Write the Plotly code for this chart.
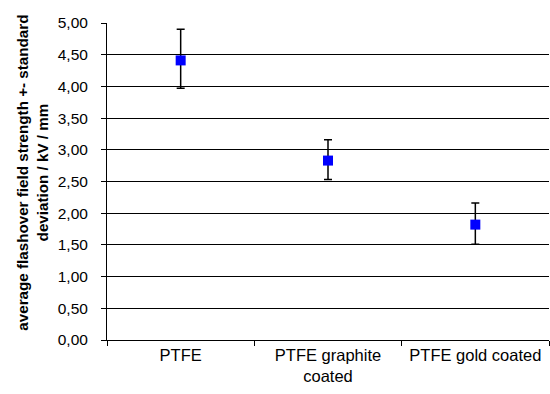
import plotly.graph_objects as go

categories = ["PTFE", "PTFE graphite<br>coated", "PTFE gold coated"]
means = [4.41, 2.83, 1.82]
err_plus = [0.49, 0.33, 0.34]
err_minus = [0.44, 0.30, 0.31]
y_ticks = [0, 0.5, 1.0, 1.5, 2.0, 2.5, 3.0, 3.5, 4.0, 4.5, 5.0]
y_title = "average flashover field strength +- standard<br>deviation / kV / mm"

fig = go.Figure(go.Scatter(
    x=categories, y=means, mode="markers",
    marker=dict(symbol="square", size=10, color="#0000FF", line=dict(width=0)),
    error_y=dict(type="data", symmetric=False, array=err_plus, arrayminus=err_minus,
                 color="#000000", thickness=1.5, width=4),
    showlegend=False,
))

fig.update_layout(
    width=550, height=394,
    margin=dict(l=107, r=1, t=23, b=54),
    paper_bgcolor="white", plot_bgcolor="white",
    separators=",.",
    font=dict(family="Liberation Sans, Arial, sans-serif", size=16.5, color="#000"),
    xaxis=dict(
        type="category", tickson="boundaries", ticks="outside", ticklen=5,
        tickcolor="#000", showline=True, linecolor="#000", linewidth=1,
        showgrid=False, range=[-0.5, 2.5], tickfont=dict(size=16.5),
    ),
    yaxis=dict(
        range=[0, 5], tickvals=y_ticks, tickformat=".2f", ticks="outside",
        ticklen=5, tickcolor="#000", showline=True, linecolor="#000", linewidth=1,
        showgrid=True, gridcolor="#000", gridwidth=1, zeroline=False,
        tickfont=dict(size=15.5), ticklabelstandoff=10,
    ),
    annotations=[dict(
        text="<b>" + y_title + "</b>", textangle=-90, showarrow=False,
        xref="paper", yref="paper", x=-0.1674, y=0.528,
        xanchor="center", yanchor="middle", font=dict(size=15.2),
    )],
)

fig.write_html("out.html")
